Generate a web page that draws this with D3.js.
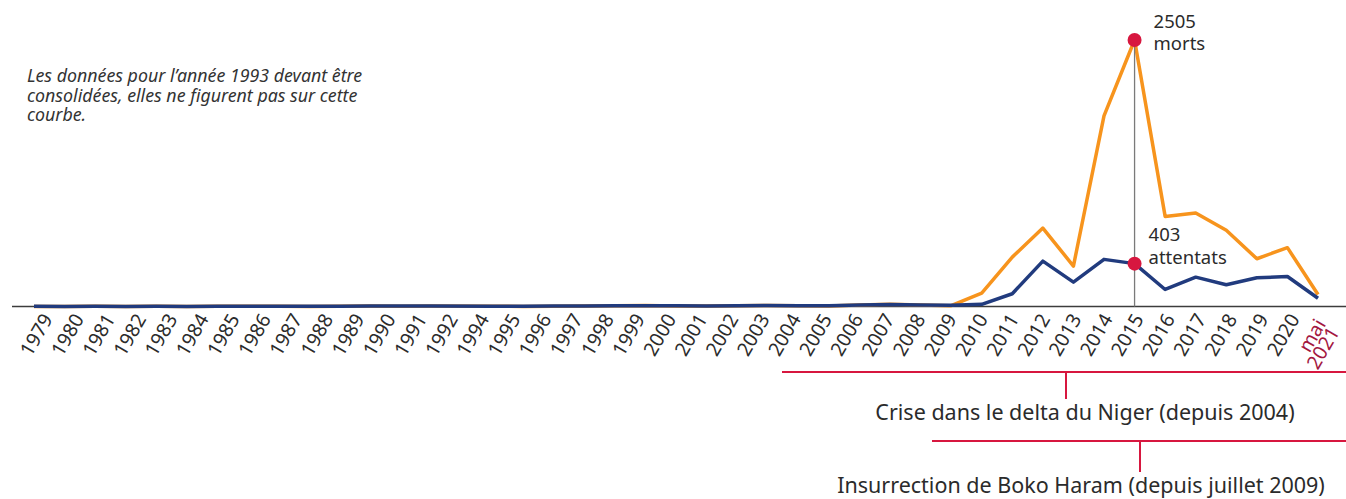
<!DOCTYPE html>
<html lang="fr">
<head>
<meta charset="utf-8">
<script src="https://cdn.jsdelivr.net/npm/d3@7"></script>
<style>
  html, body { margin: 0; padding: 0; background: #fff; }
  svg { display: block; font-family: "Noto Sans", "Open Sans", sans-serif; }
</style>
</head>
<body>
<svg id="chart" width="1346" height="499"></svg>
<script>
// Years plotted (1993 is not included in the series)
const years = [1979,1980,1981,1982,1983,1984,1985,1986,1987,1988,1989,1990,1991,1992,
  1994,1995,1996,1997,1998,1999,2000,2001,2002,2003,2004,2005,2006,2007,2008,2009,2010,
  2011,2012,2013,2014,2015,2016,2017,2018,2019,2020,2021];

// Axis labels, one per plotted year
const tickLabels = ["1979","1980","1981","1982","1983","1984","1985","1986","1987","1988","1989","1990","1991","1992",
  "1994","1995","1996","1997","1998","1999","2000","2001","2002","2003","2004","2005","2006","2007","2008","2009","2010",
  "2011","2012","2013","2014","2015","2016","2017","2018","2019","2020","mai 2021"];

// Number of attacks per year
const attacks = [2,1,2,1,2,1,3,2,3,2,3,4,4,5,
  3,2,4,5,6,8,6,5,7,9,7,6,14,18,15,12,20,
  120,427,229,443,403,160,276,204,270,282,78];

// Number of deaths per year
const deaths = [1,0,2,1,3,1,2,2,3,1,2,4,3,4,
  2,1,3,4,6,9,5,4,8,10,6,5,15,20,14,8,125,
  464,737,380,1792,2505,847,879,716,449,553,113];

// Highlighted year
const peakYear = 2015;

const svg = d3.select("#chart");
const W = 1346;
const baseY = 306.5;
const ink = "#2b2b2b";

const x = d3.scaleLinear().domain([1979, 2021]).range([34, 1318]);
const y = d3.scaleLinear().domain([0, 2505]).range([baseY, 40]);
const xLabel = d3.scalePoint().domain(tickLabels).range([47, 1325]);

const deathsData = years.map((yr, i) => ({ year: yr, value: deaths[i] }));
const attacksData = years.map((yr, i) => ({ year: yr, value: attacks[i] }));

const line = d3.line().x(d => x(d.year)).y(d => y(d.value));

// Baseline
svg.append("line")
  .attr("x1", 12).attr("x2", W)
  .attr("y1", baseY).attr("y2", baseY)
  .attr("stroke", "#3c3c3c").attr("stroke-width", 1.3);

// Series lines
svg.append("path").datum(deathsData)
  .attr("d", line).attr("fill", "none")
  .attr("stroke", "#F7941D").attr("stroke-width", 3.5)
  .attr("stroke-linejoin", "round");

svg.append("path").datum(attacksData)
  .attr("d", line).attr("fill", "none")
  .attr("stroke", "#213B7E").attr("stroke-width", 3.5)
  .attr("stroke-linejoin", "round");

// Peak marker line
const pi = years.indexOf(peakYear);
svg.append("line")
  .attr("x1", x(peakYear)).attr("x2", x(peakYear))
  .attr("y1", y(deaths[pi])).attr("y2", baseY)
  .attr("stroke", "#7a7a7a").attr("stroke-width", 1.3);

// Peak dots
[deaths[pi], attacks[pi]].forEach(v => {
  svg.append("circle")
    .attr("cx", x(peakYear)).attr("cy", y(v)).attr("r", 7)
    .attr("fill", "#D7173F");
});

// Peak labels
const lab = svg.append("g").attr("fill", ink).style("font-size", "18.5px");
lab.append("text").attr("x", x(peakYear) + 19).attr("y", y(deaths[pi]) - 12).text(deaths[pi]);
lab.append("text").attr("x", x(peakYear) + 19).attr("y", y(deaths[pi]) + 10).text("morts");
lab.append("text").attr("x", x(peakYear) + 14).attr("y", y(attacks[pi]) - 23).text(attacks[pi]);
lab.append("text").attr("x", x(peakYear) + 14).attr("y", y(attacks[pi])).text("attentats");

// X axis labels
const axisG = svg.append("g")
  .attr("transform", `translate(0,${baseY + 9})`)
  .call(d3.axisBottom(xLabel).tickSize(0).tickPadding(0));
axisG.select(".domain").remove();
axisG.selectAll("text")
  .attr("y", 0).attr("dy", "0.35em")
  .attr("text-anchor", "end")
  .attr("transform", "rotate(-60)")
  .style("font-family", "'Noto Sans', 'Open Sans', sans-serif")
  .style("font-size", "19.5px")
  .attr("fill", ink);

// Last label on two lines, in red
axisG.selectAll(".tick").filter(d => d.startsWith("mai")).select("text")
  .attr("fill", "#A3173F")
  .attr("dy", null)
  .each(function(d) {
    const t = d3.select(this);
    const parts = d.split(" ");
    t.text(null);
    t.append("tspan").attr("x", -7).attr("dy", "0.27em").text(parts[0]);
    t.append("tspan").attr("x", -7).attr("dy", "0.8em").text(parts[1]);
  });

// Note
const note = svg.append("text").attr("x", 27).attr("y", 82)
  .attr("fill", "#333").style("font-size", "17.8px").style("font-style", "italic");
["Les données pour l’année 1993 devant être",
 "consolidées, elles ne figurent pas sur cette",
 "courbe."].forEach((s, i) => {
  note.append("tspan").attr("x", 27).attr("dy", i === 0 ? 0 : 19.5).text(s);
});

// Period brackets
const red = "#D7173F";
const periods = [
  { label: "Crise dans le delta du Niger (depuis 2004)", x0: 782, stub: 1066, y: 372, stubEnd: 399, tx: 1085, ty: 420 },
  { label: "Insurrection de Boko Haram (depuis juillet 2009)", x0: 932, stub: 1140, y: 441, stubEnd: 472, tx: 1081, ty: 493 }
];
periods.forEach(p => {
  svg.append("line").attr("x1", p.x0).attr("x2", W).attr("y1", p.y).attr("y2", p.y)
    .attr("stroke", red).attr("stroke-width", 2);
  svg.append("line").attr("x1", p.stub).attr("x2", p.stub).attr("y1", p.y).attr("y2", p.stubEnd)
    .attr("stroke", red).attr("stroke-width", 2);
  svg.append("text").attr("x", p.tx).attr("y", p.ty).attr("text-anchor", "middle")
    .attr("fill", ink).style("font-size", "21.5px").text(p.label);
});
</script>
</body>
</html>
